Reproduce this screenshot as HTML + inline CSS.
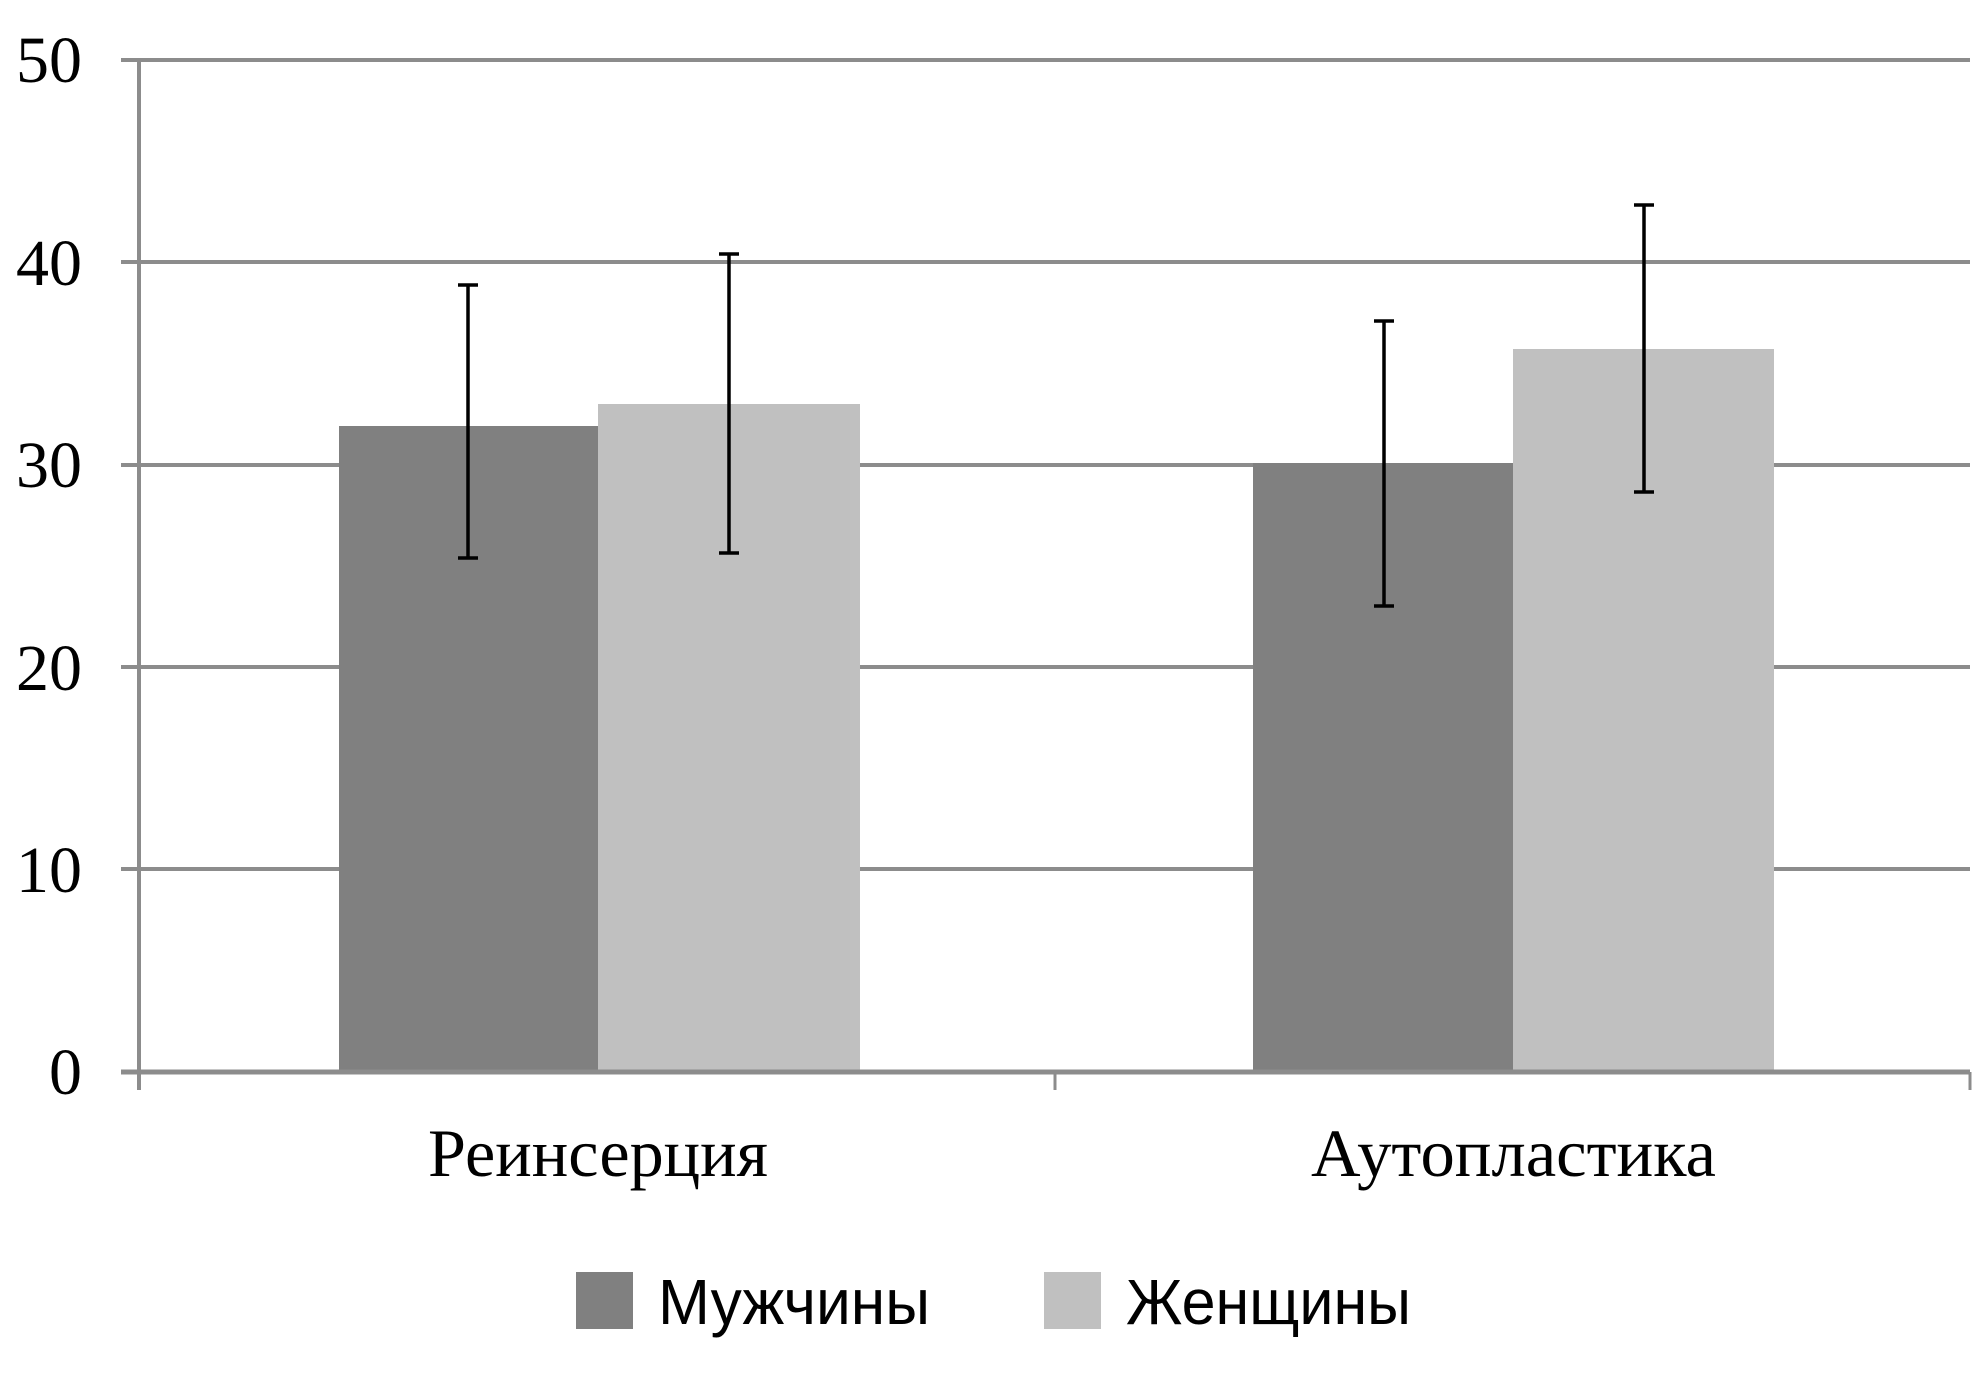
<!DOCTYPE html>
<html><head><meta charset="utf-8"><style>
html,body{margin:0;padding:0;background:#fff;}
svg{display:block;}
</style></head><body>
<svg width="1984" height="1397" viewBox="0 0 1984 1397" xmlns="http://www.w3.org/2000/svg">
<rect width="1984" height="1397" fill="#fff"/>
<g stroke="#8c8c8c" stroke-width="4">
<line x1="121" y1="60" x2="1970" y2="60"/>
<line x1="121" y1="262" x2="1970" y2="262"/>
<line x1="121" y1="465" x2="1970" y2="465"/>
<line x1="121" y1="667" x2="1970" y2="667"/>
<line x1="121" y1="869" x2="1970" y2="869"/>
<line x1="139" y1="60" x2="139" y2="1090"/>
</g>
<rect x="339" y="426" width="259" height="646" fill="#808080"/>
<rect x="598" y="404" width="262" height="668" fill="#c0c0c0"/>
<rect x="1253" y="463" width="260" height="609" fill="#808080"/>
<rect x="1513" y="349" width="261" height="723" fill="#c0c0c0"/>
<g stroke="#8c8c8c">
<line x1="121" y1="1072" x2="1970" y2="1072" stroke-width="5"/>
<line x1="139" y1="1072" x2="139" y2="1090" stroke-width="3"/>
<line x1="1055" y1="1072" x2="1055" y2="1090" stroke-width="3"/>
<line x1="1970" y1="1072" x2="1970" y2="1090" stroke-width="3"/>
</g>
<g stroke="#000" stroke-width="3.5">
<line x1="468" y1="285" x2="468" y2="558"/><line x1="458" y1="285" x2="478" y2="285"/><line x1="458" y1="558" x2="478" y2="558"/>
<line x1="729" y1="254" x2="729" y2="553"/><line x1="719" y1="254" x2="739" y2="254"/><line x1="719" y1="553" x2="739" y2="553"/>
<line x1="1384" y1="321" x2="1384" y2="606"/><line x1="1374" y1="321" x2="1394" y2="321"/><line x1="1374" y1="606" x2="1394" y2="606"/>
<line x1="1644" y1="205" x2="1644" y2="492"/><line x1="1634" y1="205" x2="1654" y2="205"/><line x1="1634" y1="492" x2="1654" y2="492"/>
</g>
<g font-family="Liberation Serif, serif" font-size="66" fill="#000" text-anchor="end">
<text x="82" y="82">50</text>
<text x="82" y="285">40</text>
<text x="82" y="487">30</text>
<text x="82" y="690">20</text>
<text x="82" y="892">10</text>
<text x="82" y="1094">0</text>
</g>
<g font-family="Liberation Serif, serif" font-size="68" fill="#000">
<text x="428" y="1176" textLength="340" lengthAdjust="spacingAndGlyphs">Реинсерция</text>
<text x="1311" y="1176" textLength="405" lengthAdjust="spacingAndGlyphs">Аутопластика</text>
</g>
<rect x="576" y="1272" width="57" height="57" fill="#808080"/>
<rect x="1044" y="1272" width="57" height="57" fill="#c0c0c0"/>
<g font-family="Liberation Sans, sans-serif" font-size="64" fill="#000">
<text x="658" y="1324" textLength="272" lengthAdjust="spacingAndGlyphs">Мужчины</text>
<text x="1126" y="1324" textLength="285" lengthAdjust="spacingAndGlyphs">Женщины</text>
</g>
</svg>
</body></html>
